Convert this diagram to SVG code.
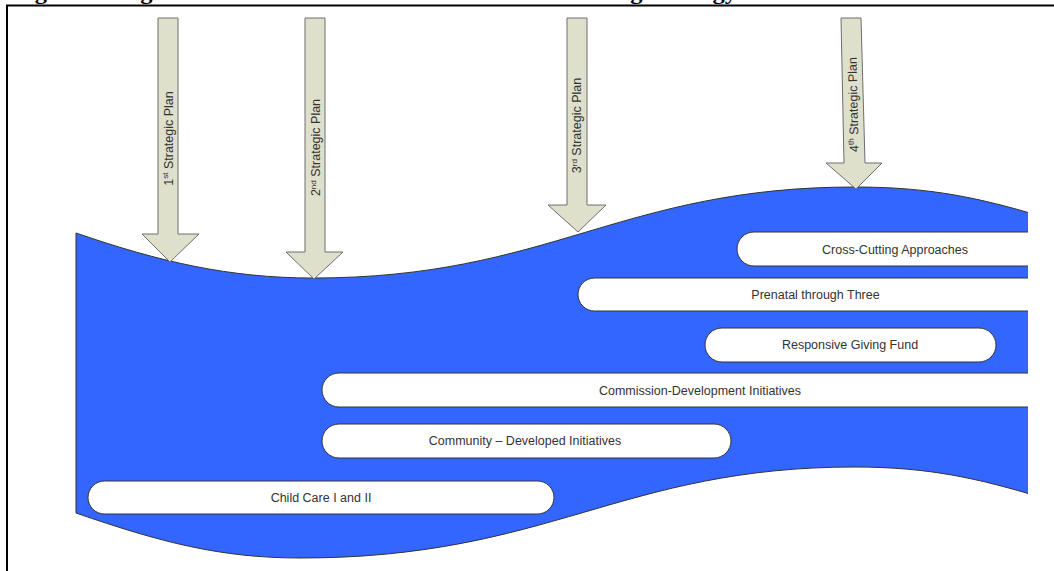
<svg xmlns="http://www.w3.org/2000/svg" width="1054" height="571" viewBox="0 0 1054 571">
<style>
.title{font-family:"Liberation Serif","Times New Roman",serif;font-weight:bold;font-size:21px;fill:#000}
.frame{stroke:#000;stroke-width:2;fill:none}
.arrow{fill:#DEE0CB;stroke:#6E6E6E;stroke-width:1}
.atext{font-family:"Liberation Sans",Arial,sans-serif;font-size:12.5px;fill:#333}
.sup{font-size:8px}
.pill{fill:#fff;stroke:#333;stroke-width:1}
.ptext{font-family:"Liberation Sans",Arial,sans-serif;font-size:12.5px;fill:#333;text-anchor:middle}
.edge{fill:none;stroke:#333;stroke-width:1}
</style>
<defs>
<clipPath id="clipR"><rect x="0" y="0" width="1028" height="571"/></clipPath>
</defs>
<rect x="0" y="0" width="1054" height="571" fill="#fff"/>
<text class="title" x="13" y="-1" textLength="724" lengthAdjust="spacingAndGlyphs">Figure 1: High Level Overview of First 5 LA's Grantmaking Strategy</text>
<path class="frame" d="M7,571 V5.5 H1054"/>
<g id="river" clip-path="url(#clipR)">
<path fill="#3366FF" d="M76,233 C160,262 230,278 313,278 C550,278 620,187 855,187 C930,187 980,198 1040,216 L1040,497 C980,479 930,467 855,467 C620,467 550,558 300,558 C220,558 160,542 76,513 Z"/>
<path class="edge" d="M1040,216 C980,198 930,187 855,187 C620,187 550,278 313,278 C230,278 160,262 76,233 L76,513 C160,542 220,558 300,558 C550,558 620,467 855,467 C930,467 980,479 1040,497"/>
</g>
<g id="connectors">
<g id="arrow1"><polygon class="arrow" points="158,18 178,18 178,234 199,234 170,262 142,234 158,234"/>
<text class="atext" text-anchor="middle" transform="translate(172.5,138.5) rotate(-90)">1<tspan class="sup" dy="-4.5">st</tspan><tspan dy="4.5"> Strategic Plan</tspan></text></g>
<g id="arrow2"><polygon class="arrow" points="305,18 325,18 325,252 343,252 314,279 286,252 305,252"/>
<text class="atext" text-anchor="middle" transform="translate(320,147.5) rotate(-90)">2<tspan class="sup" dy="-4.5">nd</tspan><tspan dy="4.5"> Strategic Plan</tspan></text></g>
<g id="arrow3"><polygon class="arrow" points="567,18 587,18 587,205 606,205 578,232 548,205 567,205"/>
<text class="atext" text-anchor="middle" transform="translate(581,125.5) rotate(-90)">3<tspan class="sup" dy="-4.5">rd</tspan><tspan dy="4.5"> Strategic Plan</tspan></text></g>
<g id="arrow4"><polygon class="arrow" points="841,18 861,18 865,163 882,163 856,189 826,163 844,163"/>
<text class="atext" text-anchor="middle" transform="translate(857.5,104.5) rotate(-91.2)">4<tspan class="sup" dy="-4.5">th</tspan><tspan dy="4.5"> Strategic Plan</tspan></text></g>
</g>
<g clip-path="url(#clipR)">
<g id="cross-cutting"><rect class="pill" x="737" y="232" width="340" height="34" rx="17"/><text class="ptext" x="895" y="253.5">Cross-Cutting Approaches</text></g>
<g id="prenatal"><rect class="pill" x="578" y="278" width="500" height="33" rx="16.5"/><text class="ptext" x="815.5" y="298.5">Prenatal through Three</text></g>
<g id="responsive"><rect class="pill" x="705" y="328" width="291" height="34" rx="17"/><text class="ptext" x="850" y="349">Responsive Giving Fund</text></g>
<g id="commission"><rect class="pill" x="322" y="373" width="760" height="34" rx="17"/><text class="ptext" x="700" y="394.5">Commission-Development Initiatives</text></g>
<g id="community"><rect class="pill" x="322" y="424" width="409" height="34" rx="17"/><text class="ptext" x="525" y="445">Community – Developed Initiatives</text></g>
<g id="childcare"><rect class="pill" x="88" y="481" width="466" height="33" rx="16.5"/><text class="ptext" x="321" y="501.5">Child Care I and II</text></g>
</g>
</svg>
